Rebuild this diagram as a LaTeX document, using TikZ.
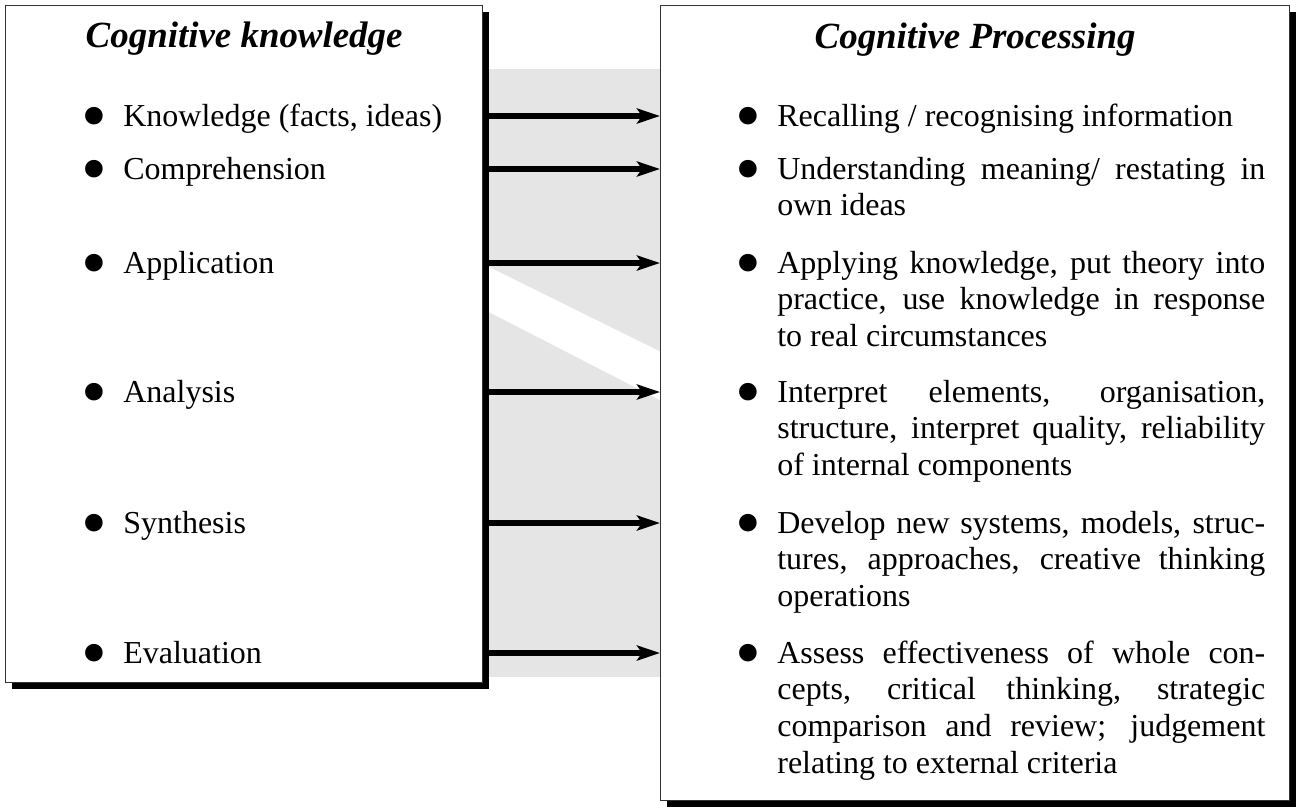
\documentclass[tikz,border=0pt]{standalone}
\usepackage{fontspec}
\setmainfont{Liberation Serif}
\usepackage{graphicx}
\usetikzlibrary{arrows.meta,calc,positioning,shadows}
\newcommand{\blt}{\leavevmode\llap{\smash{\raisebox{-0.45em}{\scalebox{2.3}{\textbullet}}}\hspace{0.33cm}}}
\tikzset{%
	panel/.style   = {draw=black!80, line width=0.7pt, fill=white, rectangle, anchor=north west, drop shadow={shadow xshift=0.12cm, shadow yshift=-0.12cm, fill=black, opacity=1}},
	heading/.style = {font=\fontsize{21}{24}\selectfont\bfseries\itshape, anchor=base}, % Title
	entry/.style   = {font=\fontsize{18.2}{21}\selectfont, anchor=base west, inner sep=0pt}, % Left item
	detail/.style  = {entry, text width=9.76cm, align=justify}, % Right item
	arrow/.style   = {line width=3.2pt, -{Stealth[length=0.46cm, width=0.3cm, inset=0.1cm]}},
}

\begin{document}
\begin{tikzpicture}
	\useasboundingbox (0,0) rectangle (25.94,-16.18);
	\fill[black!10] (9.7,-1.38) rectangle (13.2,-13.54);
	\fill[white] (9.7,-5.3) -- (13.2,-7.03) -- (13.2,-8.0) -- (9.7,-6.2) -- cycle;
	\node[panel, minimum width=9.54cm, minimum height=13.54cm] (know) at (0.1,-0.1) {};
	\node[panel, minimum width=12.58cm, minimum height=15.9cm] (proc) at (13.2,-0.1) {};
	\node[heading] (knowtitle) at ($(know.north)+(0,-0.84)$) {Cognitive knowledge};
	\node[heading] (proctitle) at ($(proc.north)+(0,-0.86)$) {Cognitive Processing};
	\node[entry] (k1) at (2.46,-2.52) {\blt Knowledge (facts, ideas)};
	\node[entry] (k2) at (2.46,-3.58) {\blt Comprehension};
	\node[entry] (k3) at (2.46,-5.46) {\blt Application};
	\node[entry] (k4) at (2.46,-8.04) {\blt Analysis};
	\node[entry] (k5) at (2.46,-10.66) {\blt Synthesis};
	\node[entry] (k6) at (2.46,-13.26) {\blt Evaluation};
	\node[detail] (p1) at (15.54,-2.52) {\blt Recalling / recognising information};
	\node[detail] (p2) at (15.54,-3.58) {\blt Understanding meaning/ restating in\linebreak own ideas};
	\node[detail] (p3) at (15.54,-5.46) {\blt Applying knowledge, put theory into\linebreak practice, use knowledge in response\linebreak to real circumstances};
	\node[detail] (p4) at (15.54,-8.04) {\blt Interpret elements, organisation,\linebreak structure, interpret quality, reliability\linebreak of internal components};
	\node[detail] (p5) at (15.54,-10.66) {\blt Develop new systems, models, struc-\linebreak tures, approaches, creative thinking\linebreak operations};
	\node[detail] (p6) at (15.54,-13.26) {\blt Assess effectiveness of whole con-\linebreak cepts, critical thinking, strategic\linebreak comparison and review; judgement\linebreak relating to external criteria};
	\draw[arrow] ($(k1.base -| know.east)+(0,0.2)$) -- ($(k1.base -| proc.west)+(0,0.2)$);
	\draw[arrow] ($(k2.base -| know.east)+(0,0.2)$) -- ($(k2.base -| proc.west)+(0,0.2)$);
	\draw[arrow] ($(k3.base -| know.east)+(0,0.2)$) -- ($(k3.base -| proc.west)+(0,0.2)$);
	\draw[arrow] ($(k4.base -| know.east)+(0,0.2)$) -- ($(k4.base -| proc.west)+(0,0.2)$);
	\draw[arrow] ($(k5.base -| know.east)+(0,0.2)$) -- ($(k5.base -| proc.west)+(0,0.2)$);
	\draw[arrow] ($(k6.base -| know.east)+(0,0.2)$) -- ($(k6.base -| proc.west)+(0,0.2)$);
\end{tikzpicture}
\end{document}
